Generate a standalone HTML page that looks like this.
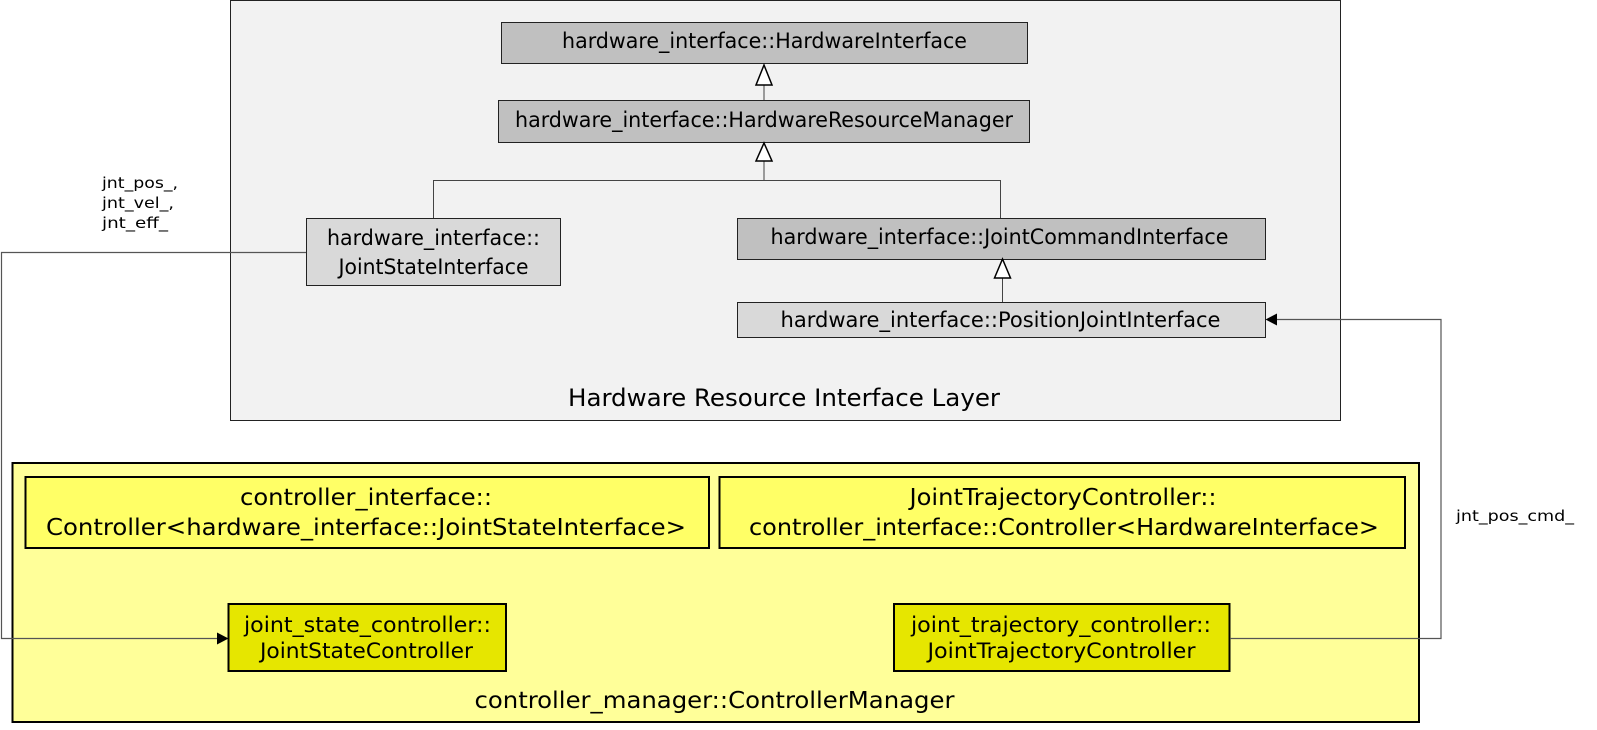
<!DOCTYPE html>
<html><head><meta charset="utf-8"><style>html,body{margin:0;padding:0;background:#fff}svg{display:block}</style></head>
<body>
<svg width="1597" height="730" viewBox="0 0 1597 730" xmlns="http://www.w3.org/2000/svg" font-family="'DejaVu Sans Condensed','Liberation Sans Narrow','Liberation Sans',sans-serif">
<!-- outer gray layer -->
<rect x="230.5" y="0.5" width="1110" height="420" fill="#f2f2f2" stroke="#222" stroke-width="1"/>
<!-- boxes top -->
<rect x="501.5" y="22.5" width="526" height="41" fill="#c0c0c0" stroke="#222"/>
<rect x="498.5" y="100.5" width="531" height="42" fill="#c0c0c0" stroke="#222"/>
<rect x="306.5" y="218.5" width="254" height="67" fill="#d9d9d9" stroke="#222"/>
<rect x="737.5" y="218.5" width="528" height="41" fill="#c0c0c0" stroke="#222"/>
<rect x="737.5" y="302.5" width="528" height="35" fill="#d9d9d9" stroke="#222"/>
<!-- generalization lines -->
<g stroke="#444" fill="none" stroke-width="1">
<line x1="764" y1="85" x2="764" y2="100"/>
<line x1="764" y1="161" x2="764" y2="180.5"/>
<polyline points="433.5,218 433.5,180.5 1000.5,180.5 1000.5,218"/>
<line x1="1002.5" y1="278" x2="1002.5" y2="302"/>
<line x1="367" y1="569" x2="367" y2="604"/>
<line x1="1063.5" y1="566" x2="1063.5" y2="604"/>
</g>
<g fill="#fff" stroke="#000" stroke-width="1.5">
<polygon points="764,65 756,85 772,85"/>
<polygon points="764,143 756,161 772,161"/>
<polygon points="1002.5,259 994.5,278 1010.5,278"/>
<polygon points="367,549 359,569 375,569"/>
<polygon points="1063.5,548 1055.5,566 1071.5,566"/>
</g>
<g font-size="21" fill="#000" text-anchor="middle">
<text x="764.5" y="48" textLength="405" lengthAdjust="spacingAndGlyphs">hardware_interface::HardwareInterface</text>
<text x="764" y="127" textLength="498" lengthAdjust="spacingAndGlyphs">hardware_interface::HardwareResourceManager</text>
<text x="433.5" y="245" textLength="213" lengthAdjust="spacingAndGlyphs">hardware_interface::</text>
<text x="433.5" y="274" textLength="190" lengthAdjust="spacingAndGlyphs">JointStateInterface</text>
<text x="999.5" y="244" textLength="458" lengthAdjust="spacingAndGlyphs">hardware_interface::JointCommandInterface</text>
<text x="1000.5" y="327" textLength="440" lengthAdjust="spacingAndGlyphs">hardware_interface::PositionJointInterface</text>
</g>
<text x="568" y="406" font-size="24" textLength="432" lengthAdjust="spacingAndGlyphs">Hardware Resource Interface Layer</text>
<!-- yellow manager -->
<rect x="12.5" y="463" width="1406.5" height="259" fill="#ffff99" stroke="#000" stroke-width="2"/>
<rect x="25.5" y="477" width="683.5" height="71" fill="#ffff66" stroke="#000" stroke-width="2"/>
<rect x="719.5" y="477" width="685.5" height="71" fill="#ffff66" stroke="#000" stroke-width="2"/>
<rect x="228.5" y="604" width="277.5" height="67" fill="#e6e600" stroke="#000" stroke-width="2"/>
<rect x="894" y="604" width="335.5" height="67" fill="#e6e600" stroke="#000" stroke-width="2"/>
<g font-size="23" fill="#000" text-anchor="middle">
<text x="366" y="505" textLength="252" lengthAdjust="spacingAndGlyphs">controller_interface::</text>
<text x="366" y="535" textLength="640" lengthAdjust="spacingAndGlyphs">Controller&lt;hardware_interface::JointStateInterface&gt;</text>
<text x="1063" y="505" textLength="307" lengthAdjust="spacingAndGlyphs">JointTrajectoryController::</text>
<text x="1064" y="535" textLength="630" lengthAdjust="spacingAndGlyphs">controller_interface::Controller&lt;HardwareInterface&gt;</text>
</g>
<g font-size="21" fill="#000" text-anchor="middle">
<text x="367.5" y="632" textLength="247" lengthAdjust="spacingAndGlyphs">joint_state_controller::</text>
<text x="366.5" y="658" textLength="213" lengthAdjust="spacingAndGlyphs">JointStateController</text>
<text x="1061" y="632" textLength="300" lengthAdjust="spacingAndGlyphs">joint_trajectory_controller::</text>
<text x="1061.5" y="658" textLength="268" lengthAdjust="spacingAndGlyphs">JointTrajectoryController</text>
</g>
<text x="474.5" y="708" font-size="23" textLength="480" lengthAdjust="spacingAndGlyphs">controller_manager::ControllerManager</text>
<!-- association connectors -->
<g stroke="#555" fill="none" stroke-width="1.2">
<polyline points="306,252.5 1.5,252.5 1.5,638.5 218,638.5"/>
<polyline points="1230,638.5 1441,638.5 1441,319.5 1276,319.5"/>
</g>
<polygon points="228.5,638.5 217,632.5 217,644.5" fill="#000"/>
<polygon points="1265.5,319.5 1277,313.5 1277,325.5" fill="#000"/>
<g font-size="15" fill="#000" font-weight="300">
<text x="102" y="188" textLength="76" lengthAdjust="spacingAndGlyphs">jnt_pos_,</text>
<text x="102" y="208" textLength="72" lengthAdjust="spacingAndGlyphs">jnt_vel_,</text>
<text x="102" y="228" textLength="66" lengthAdjust="spacingAndGlyphs">jnt_eff_</text>
<text x="1456" y="521" textLength="118" lengthAdjust="spacingAndGlyphs">jnt_pos_cmd_</text>
</g>
</svg>
</body></html>
